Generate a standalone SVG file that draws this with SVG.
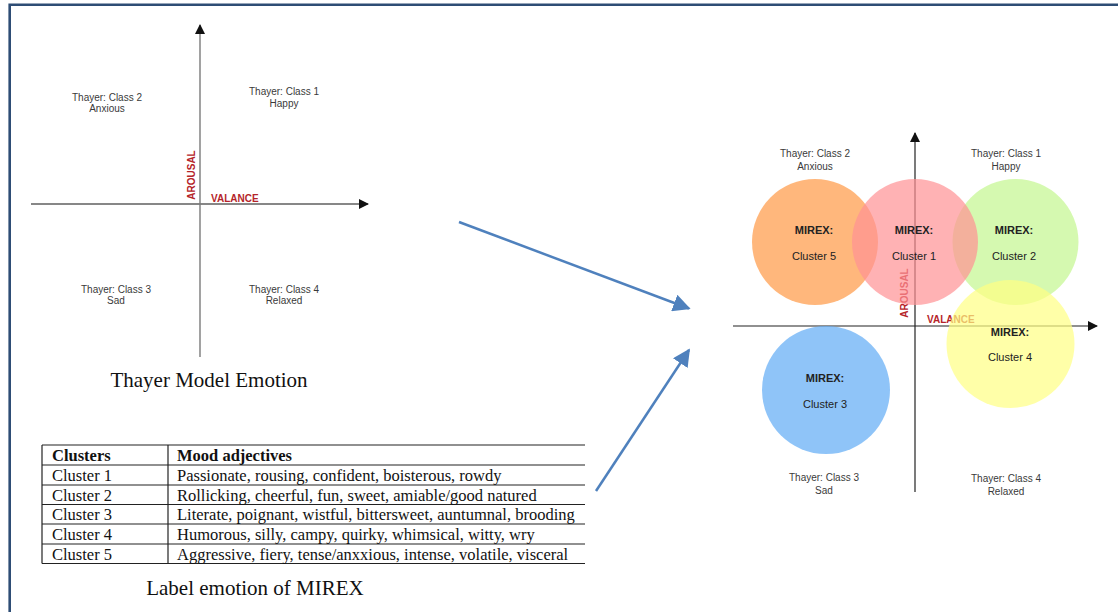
<svg xmlns="http://www.w3.org/2000/svg" width="1118" height="612" viewBox="0 0 1118 612">
<style>
.lbl{font-family:"Liberation Sans",Arial,sans-serif;font-size:10px;fill:#3a3a3a;text-anchor:middle}
.ax{font-family:"Liberation Sans",Arial,sans-serif;font-size:10px;font-weight:bold;fill:#b5242a}
.mx{font-family:"Liberation Sans",Arial,sans-serif;font-size:11px;font-weight:bold;fill:#222;text-anchor:middle}
.cl{font-family:"Liberation Sans",Arial,sans-serif;font-size:11px;fill:#222;text-anchor:middle}
.cap{font-family:"Liberation Serif","Times New Roman",serif;font-size:21px;fill:#111;text-anchor:middle}
.tb{font-family:"Liberation Serif","Times New Roman",serif;font-size:16.5px;fill:#111}
.tbb{font-family:"Liberation Serif","Times New Roman",serif;font-size:16.5px;font-weight:bold;fill:#111}
.tl{stroke:#222;stroke-width:1.2}
.circ{fill-opacity:0.7;stroke:none}
.conn{stroke:#4f81bd;stroke-width:2.5;fill:none}
</style>
<defs>
<marker id="ah" viewBox="0 0 10 10" refX="9" refY="5" markerWidth="10" markerHeight="10" markerUnits="userSpaceOnUse" orient="auto"><path d="M0,0 L10,5 L0,10 z" fill="#111"/></marker>
<marker id="bh" viewBox="0 0 10 10" refX="9" refY="5" markerWidth="7" markerHeight="7" orient="auto"><path d="M0,0 L10,5 L0,10 z" fill="#4f81bd"/></marker>
</defs>
<rect width="1118" height="612" fill="#fff"/>
<!-- frame -->
<path d="M9.7,612 V4.7 H1118" fill="none" stroke="#2e4d75" stroke-width="2.6"/>

<!-- left Thayer model -->
<g id="thayer-left">
<line x1="31" y1="204" x2="368" y2="204" stroke="#111" stroke-width="1.2" marker-end="url(#ah)"/>
<line x1="200" y1="357" x2="200" y2="25" stroke="#7a7a7a" stroke-width="1.4" marker-end="url(#ah)"/>
<text class="ax" transform="translate(194.5,175) rotate(-90)" text-anchor="middle">AROUSAL</text>
<text class="ax" x="211" y="201.5">VALANCE</text>
<text class="lbl" x="107" y="100.5">Thayer: Class 2</text>
<text class="lbl" x="107" y="112">Anxious</text>
<text class="lbl" x="284" y="94.5">Thayer: Class 1</text>
<text class="lbl" x="284" y="106.5">Happy</text>
<text class="lbl" x="116" y="292.5">Thayer: Class 3</text>
<text class="lbl" x="116" y="304">Sad</text>
<text class="lbl" x="284" y="292.5">Thayer: Class 4</text>
<text class="lbl" x="284" y="304">Relaxed</text>
<text class="cap" x="209" y="387">Thayer Model Emotion</text>
</g>

<!-- MIREX table -->
<g id="mirex-table">
<line class="tl" x1="42" y1="445" x2="585" y2="445"/>
<line class="tl" x1="42" y1="465" x2="585" y2="465"/>
<line class="tl" x1="42" y1="485" x2="585" y2="485"/>
<line class="tl" x1="42" y1="504.5" x2="585" y2="504.5"/>
<line class="tl" x1="42" y1="524" x2="585" y2="524"/>
<line class="tl" x1="42" y1="544" x2="585" y2="544"/>
<line class="tl" x1="42" y1="563.5" x2="585" y2="563.5"/>
<line class="tl" x1="42" y1="445" x2="42" y2="563.5"/>
<line class="tl" x1="168" y1="445" x2="168" y2="563.5"/>
<text class="tbb" x="52" y="461">Clusters</text>
<text class="tbb" x="177" y="461">Mood adjectives</text>
<text class="tb" x="52" y="481">Cluster 1</text>
<text class="tb" x="177" y="481">Passionate, rousing, confident, boisterous, rowdy</text>
<text class="tb" x="52" y="500.5">Cluster 2</text>
<text class="tb" x="177" y="500.5">Rollicking, cheerful, fun, sweet, amiable/good natured</text>
<text class="tb" x="52" y="520">Cluster 3</text>
<text class="tb" x="177" y="520">Literate, poignant, wistful, bittersweet, auntumnal, brooding</text>
<text class="tb" x="52" y="540">Cluster 4</text>
<text class="tb" x="177" y="540">Humorous, silly, campy, quirky, whimsical, witty, wry</text>
<text class="tb" x="52" y="559.5">Cluster 5</text>
<text class="tb" x="177" y="559.5">Aggressive, fiery, tense/anxxious, intense, volatile, visceral</text>
<text class="cap" x="255" y="595">Label emotion of MIREX</text>
</g>

<!-- right combined model -->
<g id="thayer-right">
<line x1="733" y1="326" x2="1097" y2="326" stroke="#222" stroke-width="1.2" marker-end="url(#ah)"/>
<line x1="915" y1="492" x2="915" y2="133" stroke="#222" stroke-width="1.2" marker-end="url(#ah)"/>
<text class="ax" transform="translate(907.5,293) rotate(-90)" text-anchor="middle">AROUSAL</text>
<text class="ax" x="927" y="323">VALANCE</text>
<text class="lbl" x="815" y="157">Thayer: Class 2</text>
<text class="lbl" x="815" y="170">Anxious</text>
<text class="lbl" x="1006" y="157">Thayer: Class 1</text>
<text class="lbl" x="1006" y="170">Happy</text>
<text class="lbl" x="824" y="481">Thayer: Class 3</text>
<text class="lbl" x="824" y="494">Sad</text>
<text class="lbl" x="1006" y="482">Thayer: Class 4</text>
<text class="lbl" x="1006" y="495">Relaxed</text>
</g>
<g id="cluster5"><circle class="circ" cx="815" cy="242" r="63" fill="#ff9845"/><text class="mx" x="814" y="234">MIREX:</text><text class="cl" x="814" y="260">Cluster 5</text></g>
<g id="cluster2"><circle class="circ" cx="1015.5" cy="242" r="63" fill="#c3f68e"/><text class="mx" x="1014" y="234">MIREX:</text><text class="cl" x="1014" y="260">Cluster 2</text></g>
<g id="cluster1"><circle class="circ" cx="915" cy="242" r="63" fill="#ff9294"/><text class="mx" x="914" y="234">MIREX:</text><text class="cl" x="914" y="260">Cluster 1</text></g>
<g id="cluster4"><circle class="circ" cx="1010.5" cy="344" r="64" fill="#ffff83"/><text class="mx" x="1010" y="336">MIREX:</text><text class="cl" x="1010" y="361">Cluster 4</text></g>
<g id="cluster3"><circle class="circ" cx="826" cy="390" r="64" fill="#5fabf5"/><text class="mx" x="825" y="382">MIREX:</text><text class="cl" x="825" y="408">Cluster 3</text></g>

<g id="connectors">
<line class="conn" x1="459" y1="222" x2="689" y2="308.5" marker-end="url(#bh)"/>
<line class="conn" x1="596" y1="491" x2="689" y2="350" marker-end="url(#bh)"/>
</g>
</svg>
